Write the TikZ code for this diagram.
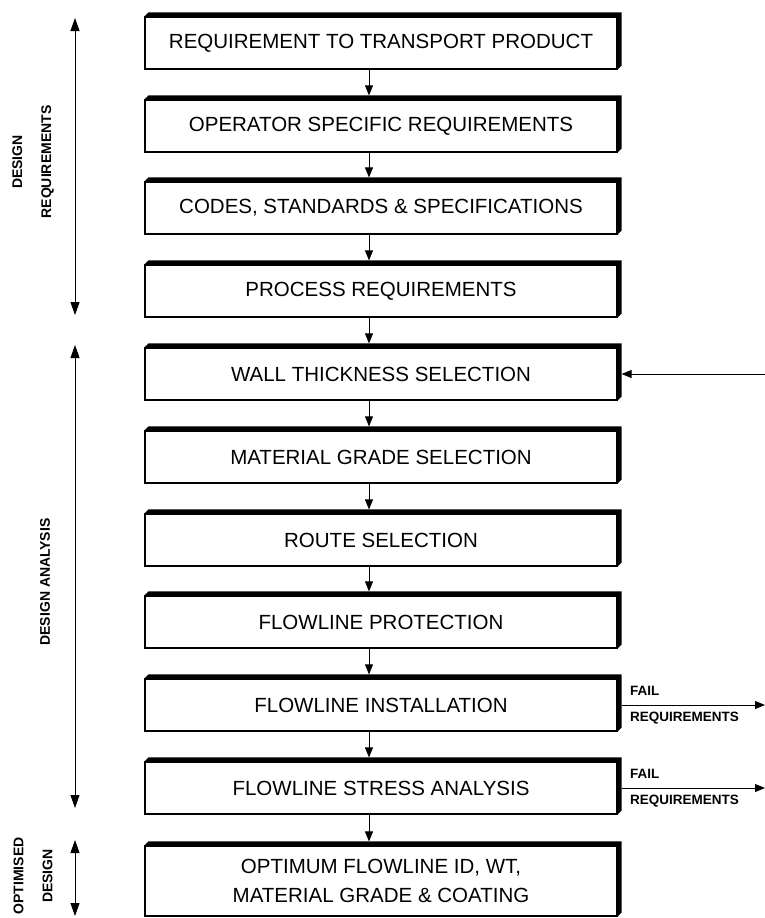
\documentclass[tikz,border=0pt]{standalone}
\usepackage{fontspec}
\setmainfont{Liberation Sans}
\usetikzlibrary{arrows.meta}

\tikzset{
  stage/.style={rectangle,draw,line width=1.2pt,minimum width=472pt,minimum height=52pt,
    inner sep=0pt,align=center,font=\fontsize{20.5}{29}\selectfont},
  flow/.style={-{Triangle[length=10pt,width=8pt]},line width=0.9pt},
  span/.style={{Triangle[length=13pt,width=9pt]}-{Triangle[length=13pt,width=9pt]},line width=0.9pt},
  sidelbl/.style={font=\fontsize{14}{29}\selectfont\bfseries,align=center},
  faillbl/.style={font=\fontsize{13.5}{14}\selectfont\bfseries,inner sep=0pt}
}

\begin{document}
\begin{tikzpicture}[x=1pt,y=-1pt]
  \useasboundingbox (0,0) rectangle (765,918);

  % the stages, top to bottom
  \node (req)    at (381,43)  [stage] {REQUIREMENT TO TRANSPORT PRODUCT};
  \node (opreq)  at (381,126) [stage] {OPERATOR SPECIFIC REQUIREMENTS};
  \node (codes)  at (381,208) [stage] {CODES, STANDARDS \& SPECIFICATIONS};
  \node (proc)   at (381,291) [stage] {PROCESS REQUIREMENTS};
  \node (wall)   at (381,374) [stage] {WALL THICKNESS SELECTION};
  \node (grade)  at (381,457) [stage] {MATERIAL GRADE SELECTION};
  \node (route)  at (381,540) [stage] {ROUTE SELECTION};
  \node (prot)   at (381,622) [stage] {FLOWLINE PROTECTION};
  \node (inst)   at (381,705) [stage] {FLOWLINE INSTALLATION};
  \node (stress) at (381,788) [stage] {FLOWLINE STRESS ANALYSIS};
  \node (optim)  at (381,881) [stage,minimum height=70pt] {OPTIMUM FLOWLINE ID, WT,\\ MATERIAL GRADE \& COATING};

  % raised top and right edges
  \foreach \n in {req,opreq,codes,proc,wall,grade,route,prot,inst,stress,optim}
    \fill (\n.north west) -- ++(4,-4) -| ([xshift=4pt,yshift=4pt]\n.south east)
      -- (\n.south east) -- (\n.north east) -- cycle;

  % links between stages
  \foreach \a/\b in {req/opreq,opreq/codes,codes/proc,proc/wall,wall/grade,grade/route,
                     route/prot,prot/inst,inst/stress,stress/optim}
    \draw [flow] ([xshift=-12pt]\a.south) -- ([xshift=-12pt,yshift=4pt]\b.north);

  % feedback into wall thickness, failures out
  \coordinate (back) at (765,374);
  \coordinate (failA) at (765,705);
  \coordinate (failB) at (765,788);
  \draw [flow] (back) -- ([xshift=4pt]wall.east);
  \draw [flow] ([xshift=4pt]inst.east) -- (inst.east -| failA)
    node [pos=0,faillbl,anchor=south west,xshift=8pt,yshift=9pt] {FAIL}
    node [pos=0,faillbl,anchor=north west,xshift=8pt,yshift=-7pt] {REQUIREMENTS};
  \draw [flow] ([xshift=4pt]stress.east) -- (stress.east -| failB)
    node [pos=0,faillbl,anchor=south west,xshift=8pt,yshift=9pt] {FAIL}
    node [pos=0,faillbl,anchor=north west,xshift=8pt,yshift=-7pt] {REQUIREMENTS};

  % phases on the left
  \coordinate (reqtop) at (75,18);
  \coordinate (reqbot) at (75,315);
  \coordinate (anatop) at (75,345);
  \coordinate (anabot) at (75,808);
  \coordinate (opttop) at (75,840);
  \coordinate (optbot) at (75,916);
  \draw [span] (reqtop) -- (reqbot);
  \draw [span] (anatop) -- (anabot);
  \draw [span] (opttop) -- (optbot);
  \node (reqlbl) at (33,162) [sidelbl,rotate=90] {DESIGN\\ REQUIREMENTS};
  \node (analbl) at (45,582) [sidelbl,rotate=90] {DESIGN ANALYSIS};
  \node (optlbl) at (33,876) [sidelbl,rotate=90] {OPTIMISED\\ DESIGN};
\end{tikzpicture}
\end{document}
